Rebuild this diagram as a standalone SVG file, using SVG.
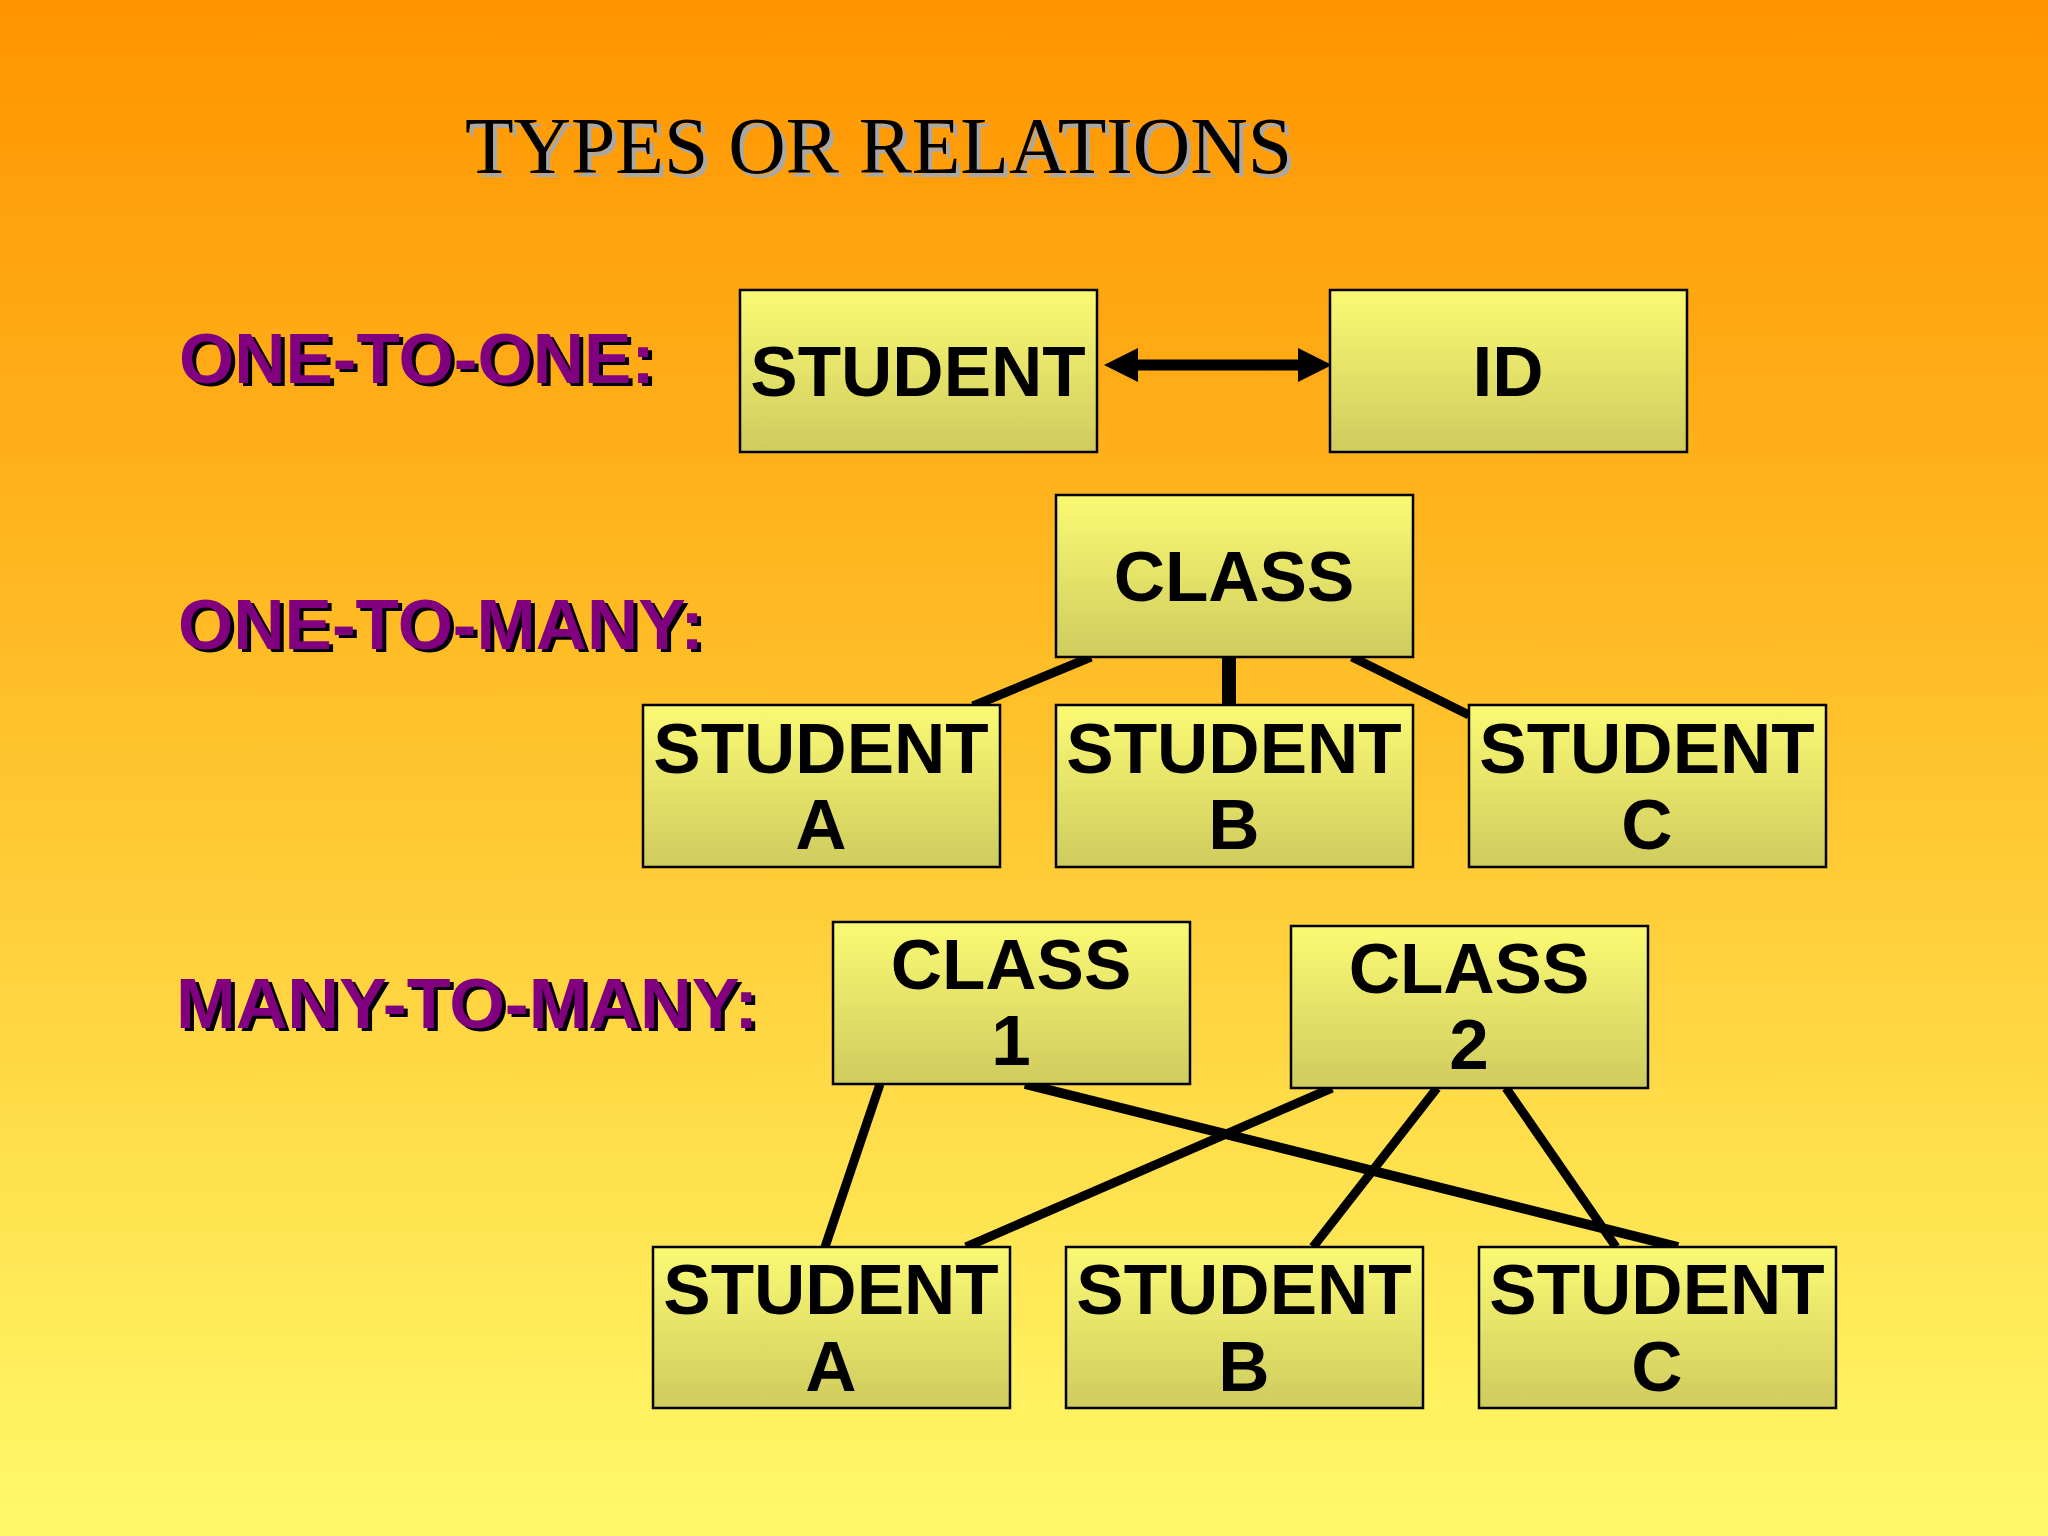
<svg xmlns="http://www.w3.org/2000/svg" width="2048" height="1536" viewBox="0 0 2048 1536">
<defs>
<linearGradient id="bg" x1="0" y1="0" x2="0" y2="1">
<stop offset="0" stop-color="#FF9400"/>
<stop offset="0.45" stop-color="#FFBF28"/>
<stop offset="1" stop-color="#FFFA6A"/>
</linearGradient>
<linearGradient id="box" x1="0" y1="0" x2="0" y2="1">
<stop offset="0" stop-color="#FBFA74"/>
<stop offset="1" stop-color="#CFCB5E"/>
</linearGradient>
<style>
.bx{fill:url(#box);stroke:#000;stroke-width:2.5}
.t{font-family:"Liberation Sans",Arial,sans-serif;font-weight:bold;font-size:71px;fill:#000;text-anchor:middle}
.lab{font-family:"Liberation Sans",Arial,sans-serif;font-weight:bold;font-size:71px}
.lab .sh{fill:#000}
.lab .fg{fill:#800080}
.c{stroke:#000;fill:none;stroke-linecap:butt}
</style>
</defs>
<rect width="2048" height="1536" fill="url(#bg)"/>
<g id="title" font-family="'Liberation Serif','Times New Roman',serif" font-size="80">
<text x="469" y="177" fill="#A8A8A8" textLength="827" lengthAdjust="spacingAndGlyphs">TYPES OR RELATIONS</text>
<text x="465" y="173" fill="#000" textLength="827" lengthAdjust="spacingAndGlyphs">TYPES OR RELATIONS</text>
</g>
<g id="label-one-to-one" class="lab">
<text class="sh" x="183" y="386">ONE-TO-ONE:</text>
<text class="fg" x="179" y="383">ONE-TO-ONE:</text>
</g>
<g id="label-one-to-many" class="lab">
<text class="sh" x="182" y="652" textLength="526" lengthAdjust="spacingAndGlyphs">ONE-TO-MANY:</text>
<text class="fg" x="178" y="649" textLength="526" lengthAdjust="spacingAndGlyphs">ONE-TO-MANY:</text>
</g>
<g id="label-many-to-many" class="lab">
<text class="sh" x="180" y="1031" textLength="582" lengthAdjust="spacingAndGlyphs">MANY-TO-MANY:</text>
<text class="fg" x="176" y="1028" textLength="582" lengthAdjust="spacingAndGlyphs">MANY-TO-MANY:</text>
</g>
<g id="connectors">
<line class="c" x1="1137" y1="365" x2="1300" y2="365" stroke-width="11"/>
<path d="M1104,365 L1138,348 L1138,382 Z M1332,365 L1298,348 L1298,382 Z" fill="#000"/>
<line class="c" x1="1091" y1="657" x2="973" y2="706" stroke-width="9"/>
<line class="c" x1="1229" y1="657" x2="1229" y2="705" stroke-width="14"/>
<line class="c" x1="1352" y1="657" x2="1469" y2="715" stroke-width="9"/>
<line class="c" x1="880" y1="1084" x2="825" y2="1247" stroke-width="9"/>
<line class="c" x1="1025" y1="1084" x2="1678" y2="1247" stroke-width="10"/>
<line class="c" x1="1332" y1="1088" x2="966" y2="1247" stroke-width="9"/>
<line class="c" x1="1437" y1="1088" x2="1313" y2="1247" stroke-width="9"/>
<line class="c" x1="1506" y1="1088" x2="1616" y2="1247" stroke-width="9"/>
</g>
<g id="n-student">
<rect class="bx" x="740" y="290" width="357" height="162"/>
<text class="t" x="918" y="396">STUDENT</text>
</g>
<g id="n-id">
<rect class="bx" x="1330" y="290" width="357" height="162"/>
<text class="t" x="1508" y="396">ID</text>
</g>
<g id="n-class">
<rect class="bx" x="1056" y="495" width="357" height="162"/>
<text class="t" x="1234" y="601">CLASS</text>
</g>
<g id="n-om-student-a">
<rect class="bx" x="643" y="705" width="357" height="162"/>
<text class="t" x="821" y="773">STUDENT</text>
<text class="t" x="821" y="849">A</text>
</g>
<g id="n-om-student-b">
<rect class="bx" x="1056" y="705" width="357" height="162"/>
<text class="t" x="1234" y="773">STUDENT</text>
<text class="t" x="1234" y="849">B</text>
</g>
<g id="n-om-student-c">
<rect class="bx" x="1469" y="705" width="357" height="162"/>
<text class="t" x="1647" y="773">STUDENT</text>
<text class="t" x="1647" y="849">C</text>
</g>
<g id="n-class-1">
<rect class="bx" x="833" y="922" width="357" height="162"/>
<text class="t" x="1011" y="989">CLASS</text>
<text class="t" x="1011" y="1065">1</text>
</g>
<g id="n-class-2">
<rect class="bx" x="1291" y="926" width="357" height="162"/>
<text class="t" x="1469" y="993">CLASS</text>
<text class="t" x="1469" y="1069">2</text>
</g>
<g id="n-mm-student-a">
<rect class="bx" x="653" y="1247" width="357" height="161"/>
<text class="t" x="831" y="1314">STUDENT</text>
<text class="t" x="831" y="1391">A</text>
</g>
<g id="n-mm-student-b">
<rect class="bx" x="1066" y="1247" width="357" height="161"/>
<text class="t" x="1244" y="1314">STUDENT</text>
<text class="t" x="1244" y="1391">B</text>
</g>
<g id="n-mm-student-c">
<rect class="bx" x="1479" y="1247" width="357" height="161"/>
<text class="t" x="1657" y="1314">STUDENT</text>
<text class="t" x="1657" y="1391">C</text>
</g>
</svg>
